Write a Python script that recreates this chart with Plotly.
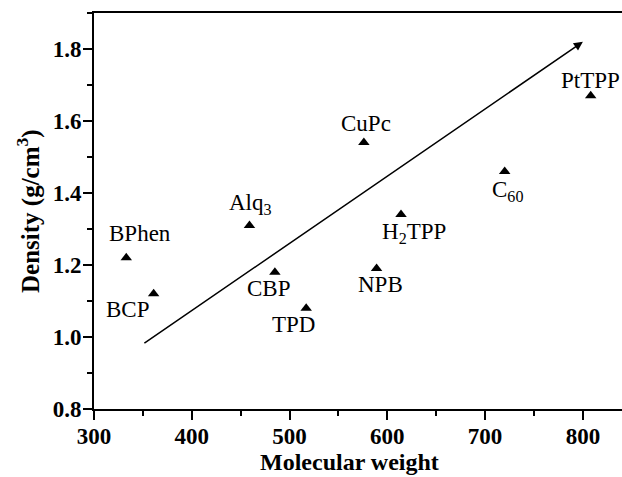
import plotly.graph_objects as go

names = ["BPhen", "BCP", "Alq<sub>3</sub>", "CBP", "TPD", "CuPc", "NPB", "H<sub>2</sub>TPP", "C<sub>60</sub>", "PtTPP"]
mol_weight = [333, 361, 459, 485, 517, 576, 589, 614, 720, 808]
density = [1.22, 1.12, 1.31, 1.18, 1.08, 1.54, 1.19, 1.34, 1.46, 1.67]
# label offsets in pixels (dx, dy up)
label_dx = [14, -26, 1, -6, -13, 2, 4, 13, 3, 0]
label_dy = [24, -16, 21, -16, -16, 19, -16, -18, -20, 15]
arrow_start = (350, 0.98)
arrow_end = (800, 1.82)

FONT = "Liberation Serif"

fig = go.Figure()
fig.add_trace(go.Scatter(
    x=mol_weight, y=density, mode="markers",
    marker=dict(symbol="triangle-up", size=10, color="black"),
    showlegend=False, hoverinfo="skip"))

for n, x, y, dx, dy in zip(names, mol_weight, density, label_dx, label_dy):
    fig.add_annotation(x=x, y=y, xref="x", yref="y", text=n, showarrow=False,
                       xshift=dx, yshift=dy,
                       font=dict(family=FONT, size=23, color="black"))

fig.add_annotation(x=arrow_end[0], y=arrow_end[1], ax=arrow_start[0], ay=arrow_start[1],
                   xref="x", yref="y", axref="x", ayref="y", text="",
                   showarrow=True, arrowhead=2, arrowsize=1.2, arrowwidth=1.5,
                   arrowcolor="black", standoff=0, startstandoff=0)

fig.add_annotation(xref="paper", yref="paper", x=0.483, y=-0.133,
                   text="<b>Molecular weight</b>", showarrow=False,
                   xanchor="center", yanchor="middle",
                   font=dict(family=FONT, size=24, color="black"))
fig.add_annotation(xref="paper", yref="paper", x=-0.125, y=0.5,
                   text="<b>Density (g/cm<sup>3</sup>)</b>", showarrow=False,
                   textangle=-90, xanchor="center", yanchor="middle",
                   font=dict(family=FONT, size=25, color="black"))

axis_common = dict(showline=True, linecolor="black", linewidth=2,
                   ticks="outside", ticklen=9, tickwidth=2, tickcolor="black",
                   showgrid=False, zeroline=False,
                   tickfont=dict(family=FONT, size=23, color="black", weight="bold"))

fig.update_xaxes(range=[300, 840], dtick=100, tick0=300, mirror=True, ticklabelstandoff=-4,
                 minor=dict(dtick=50, ticklen=5, tickwidth=2, tickcolor="black", ticks="outside"),
                 **axis_common)
fig.update_yaxes(range=[0.8, 1.9], dtick=0.2, tick0=0.8, tickformat=".1f", ticklabelstandoff=-3,
                 minor=dict(dtick=0.1, ticklen=5, tickwidth=2, tickcolor="black", ticks="outside"),
                 **axis_common)

fig.update_layout(width=622, height=477,
                  margin=dict(l=94, r=0, t=13, b=68),
                  plot_bgcolor="white", paper_bgcolor="white")

fig.write_html("out.html")
